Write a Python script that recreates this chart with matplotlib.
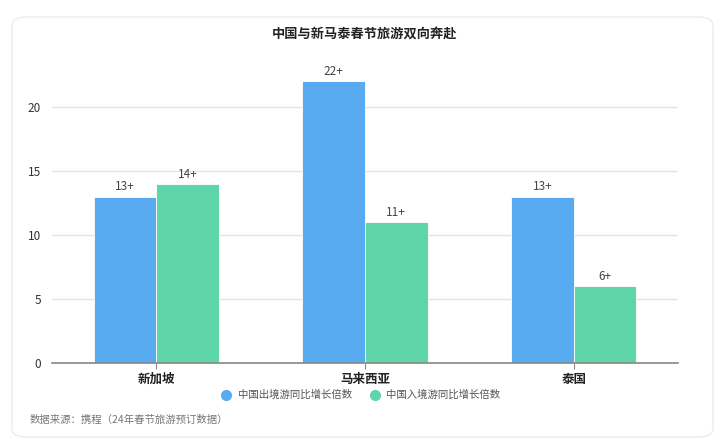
import numpy as np
import matplotlib
matplotlib.use('Agg')
import matplotlib.pyplot as plt
from matplotlib.patches import FancyBboxPatch
from matplotlib.lines import Line2D

plt.rcParams['font.family'] = ['Noto Sans CJK SC', 'DejaVu Sans']

# data
countries = ['新加坡', '马来西亚', '泰国']
outbound = [13, 22, 13]
inbound = [14, 11, 6]
series_names = ['中国出境游同比增长倍数', '中国入境游同比增长倍数']
title = '中国与新马泰春节旅游双向奔赴'
source = '数据来源：携程（24年春节旅游预订数据）'

blue = '#58abf1'
green = '#5ed6a9'

W, H = 721, 443
fig = plt.figure(figsize=(W/100, H/100), dpi=100)

# card background, kept behind the axes
card = FancyBboxPatch((12/W, 1-437/H), 701/W, 420/H,
                      boxstyle='round,pad=0,rounding_size=0.02',
                      transform=fig.transFigure, facecolor='white',
                      edgecolor='#ececec', linewidth=1.0, zorder=-10)
fig.patches.append(card)

ax = fig.add_axes([52/W, 1-363/H, 626/W, (363-43)/H])
ax.set_facecolor('none')
ax.set_zorder(1)

x = np.arange(len(countries))
w = 0.3
b1 = ax.bar(x-w/2, outbound, w, color=blue, edgecolor='white', linewidth=0.6, zorder=3)
b2 = ax.bar(x+w/2, inbound, w, color=green, edgecolor='white', linewidth=0.6, zorder=3)

for bars, vals in [(b1, outbound), (b2, inbound)]:
    for r, v in zip(bars, vals):
        ax.text(r.get_x()+r.get_width()/2, v+0.25, str(v)+'+', ha='center', va='bottom',
                fontsize=8.5, color='#444444')

ax.set_xlim(-0.5, 2.5)
ax.set_ylim(0, 25)
ax.set_yticks([0, 5, 10, 15, 20])
ax.grid(axis='y', color='#e3e3e3', linewidth=1.0, zorder=0)
for s in ['top', 'right', 'left']:
    ax.spines[s].set_visible(False)
ax.spines['bottom'].set_color('#888888')
ax.spines['bottom'].set_linewidth(1.2)
ax.spines['bottom'].set_zorder(4)
ax.tick_params(axis='y', length=0, labelsize=8.5, labelcolor='#333333', pad=8)
ax.tick_params(axis='x', length=4, color='#888888', labelsize=9, labelcolor='#222222', pad=3)
ax.set_xticks(x)
ax.set_xticklabels(countries, fontweight='bold')

fig.text(365/W, 1-35/H, title, ha='center', va='center', fontsize=9.5,
         fontweight='bold', color='#222222')

handles = [Line2D([], [], marker='o', linestyle='', markersize=7, color=c) for c in (blue, green)]
fig.legend(handles, series_names, loc='center', bbox_to_anchor=(358/W, 1-395/H),
           ncol=2, frameon=False, fontsize=7.5, handletextpad=0.1, columnspacing=1.2,
           labelcolor='#555555')

fig.text(30/W, 1-420/H, source, ha='left', va='center', fontsize=7.5, color='#777777')

fig.savefig('out.png', dpi=100)
